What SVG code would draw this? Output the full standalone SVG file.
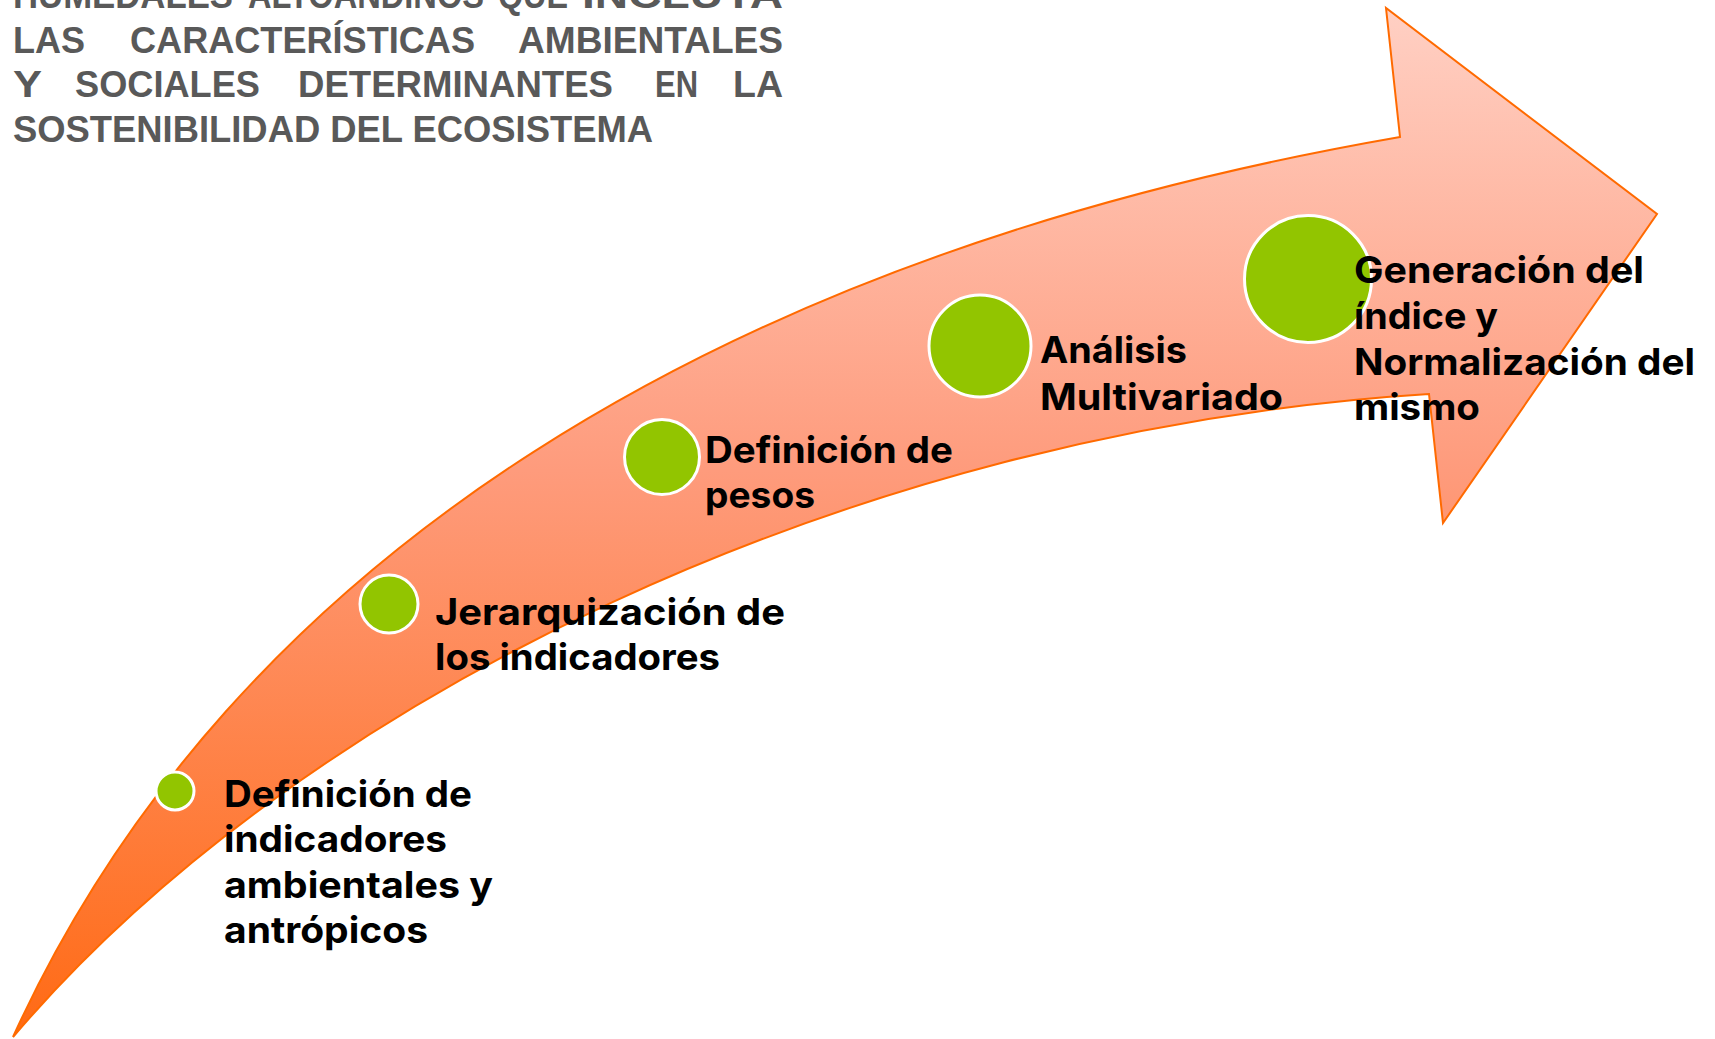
<svg xmlns="http://www.w3.org/2000/svg" width="1715" height="1039" viewBox="0 0 1715 1039">
<style>
.head{font-family:"Liberation Sans",Arial,sans-serif;font-weight:700;font-size:36px;fill:#595959}
.lbl{font-family:Inter,"Noto Sans",sans-serif;font-weight:700;font-size:37px;fill:#000}
.dot{fill:#92C500;stroke:#fff;stroke-width:3}
</style>
<defs>
<linearGradient id="gr" gradientUnits="userSpaceOnUse" x1="0" y1="7" x2="0" y2="1037">
<stop offset="0" stop-color="#FFD0C4"/>
<stop offset="0.45" stop-color="#FE9B7C"/>
<stop offset="1" stop-color="#FF6A14"/>
</linearGradient>
</defs>
<rect width="1715" height="1039" fill="#fff"/>
<g id="heading">
<text class="head" x="13" y="8" textLength="220" lengthAdjust="spacingAndGlyphs">HUMEDALES</text>
<text class="head" x="248" y="8" textLength="236" lengthAdjust="spacingAndGlyphs">ALTOANDINOS</text>
<text class="head" x="498" y="8" textLength="70" lengthAdjust="spacingAndGlyphs">QUE</text>
<text class="head" x="582" y="8" textLength="201" lengthAdjust="spacingAndGlyphs">INCLUYA</text>
<text class="head" x="13" y="53" textLength="72" lengthAdjust="spacingAndGlyphs">LAS</text>
<text class="head" x="130" y="53" textLength="345" lengthAdjust="spacingAndGlyphs">CARACTERÍSTICAS</text>
<text class="head" x="518" y="53" textLength="265" lengthAdjust="spacingAndGlyphs">AMBIENTALES</text>
<text class="head" x="13" y="97" textLength="29" lengthAdjust="spacingAndGlyphs">Y</text>
<text class="head" x="75" y="97" textLength="185" lengthAdjust="spacingAndGlyphs">SOCIALES</text>
<text class="head" x="298" y="97" textLength="315" lengthAdjust="spacingAndGlyphs">DETERMINANTES</text>
<text class="head" x="655" y="97" textLength="43" lengthAdjust="spacingAndGlyphs">EN</text>
<text class="head" x="733" y="97" textLength="50" lengthAdjust="spacingAndGlyphs">LA</text>
<text class="head" x="13" y="142" textLength="640" lengthAdjust="spacingAndGlyphs">SOSTENIBILIDAD DEL ECOSISTEMA</text>
</g>
<g id="connectors">
<path id="arrow" d="M13,1037 C230,560 720,255 1400,137 L1386,8 L1657,214 L1443,523 L1429,394 C850,430 300,700 13,1037 Z" fill="url(#gr)" stroke="#FF6A00" stroke-width="2" stroke-linejoin="miter"/>
</g>
<g id="step1">
<circle class="dot" cx="175" cy="791" r="19"/>
<text class="lbl" x="224" y="807" textLength="248" lengthAdjust="spacingAndGlyphs">Definición de</text>
<text class="lbl" x="224" y="852" textLength="223" lengthAdjust="spacingAndGlyphs">indicadores</text>
<text class="lbl" x="224" y="898" textLength="269" lengthAdjust="spacingAndGlyphs">ambientales y</text>
<text class="lbl" x="224" y="943" textLength="204" lengthAdjust="spacingAndGlyphs">antrópicos</text>
</g>
<g id="step2">
<circle class="dot" cx="389" cy="604" r="29"/>
<text class="lbl" x="435" y="625" textLength="350" lengthAdjust="spacingAndGlyphs">Jerarquización de</text>
<text class="lbl" x="435" y="670" textLength="285" lengthAdjust="spacingAndGlyphs">los indicadores</text>
</g>
<g id="step3">
<circle class="dot" cx="662" cy="457" r="37.5"/>
<text class="lbl" x="705" y="463" textLength="248" lengthAdjust="spacingAndGlyphs">Definición de</text>
<text class="lbl" x="705" y="508" textLength="110" lengthAdjust="spacingAndGlyphs">pesos</text>
</g>
<g id="step4">
<circle class="dot" cx="980" cy="346" r="51"/>
<text class="lbl" x="1040" y="363" textLength="147" lengthAdjust="spacingAndGlyphs">Análisis</text>
<text class="lbl" x="1040" y="410" textLength="243" lengthAdjust="spacingAndGlyphs">Multivariado</text>
</g>
<g id="step5">
<circle class="dot" cx="1308" cy="279" r="63.5"/>
<text class="lbl" x="1354" y="283" textLength="290" lengthAdjust="spacingAndGlyphs">Generación del</text>
<text class="lbl" x="1354" y="329" textLength="144" lengthAdjust="spacingAndGlyphs">índice y</text>
<text class="lbl" x="1354" y="375" textLength="341" lengthAdjust="spacingAndGlyphs">Normalización del</text>
<text class="lbl" x="1354" y="420" textLength="126" lengthAdjust="spacingAndGlyphs">mismo</text>
</g>
</svg>
